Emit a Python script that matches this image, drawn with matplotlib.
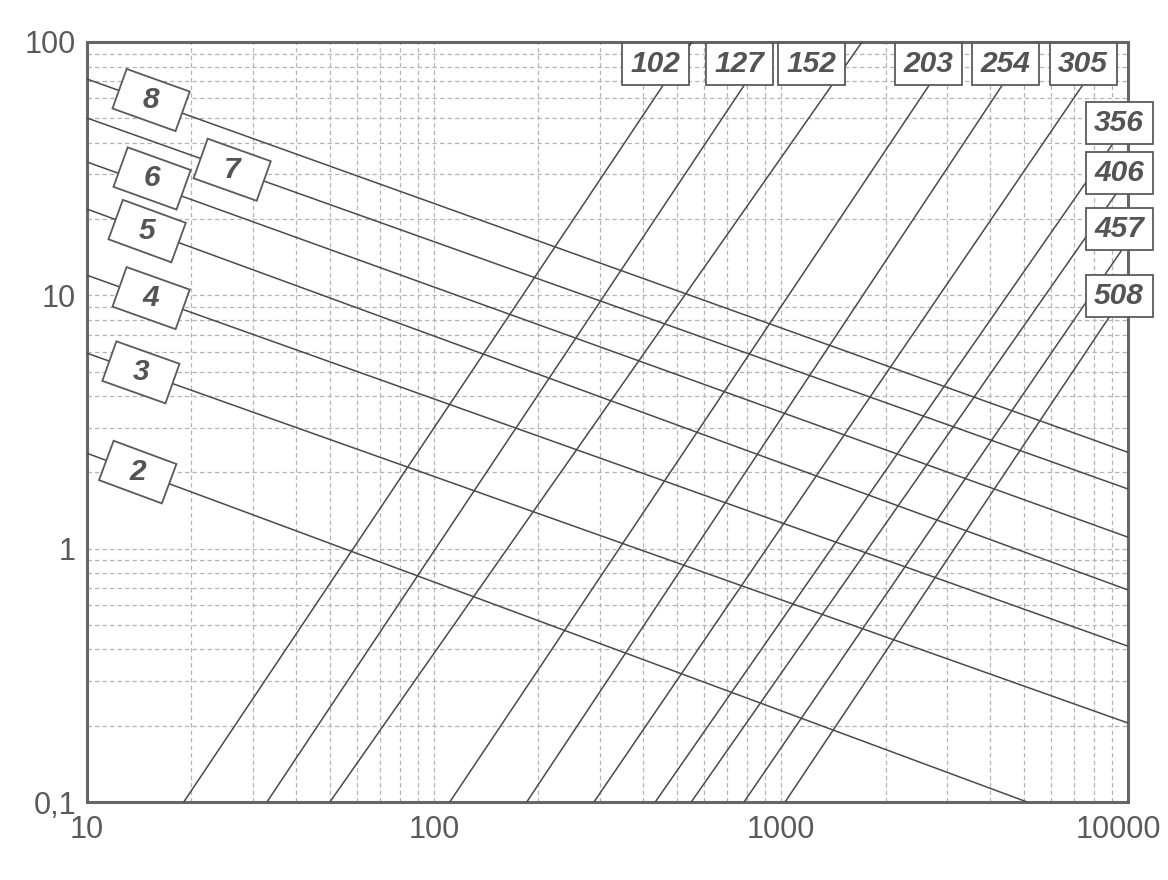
import numpy as np
import matplotlib
matplotlib.use("Agg")
from matplotlib import pyplot as plt
from matplotlib.patches import Rectangle
from matplotlib.transforms import Affine2D, ScaledTranslation
from matplotlib.ticker import LogLocator, NullFormatter

# Falling lines (labels 2..8): start on the left edge, end on the right/bottom edge
down_labels = ["2", "3", "4", "5", "6", "7", "8"]
down_x_start = [10, 10, 10, 10, 10, 10, 10]
down_y_start = [2.38, 5.91, 12.0, 21.9, 33.6, 50.1, 71.4]
down_x_end = [5120, 10000, 10000, 10000, 10000, 10000, 10000]
down_y_end = [0.1, 0.205, 0.412, 0.687, 1.11, 1.72, 2.40]

# Rising lines (labels 102..508): start on the bottom edge, end on the top/right edge
up_labels = ["102", "127", "152", "203", "254", "305", "356", "406", "457", "508"]
up_x_start = [19.0, 33.0, 50.1, 111, 185, 289, 434, 551, 782, 1027]
up_y_start = [0.1, 0.1, 0.1, 0.1, 0.1, 0.1, 0.1, 0.1, 0.1, 0.1]
up_x_end = [554, 948, 1712, 3236, 5248, 8995, 10000, 10000, 10000, 10000]
up_y_end = [100, 100, 100, 100, 100, 100, 48.4, 29.4, 16.4, 10.6]

x_ticks = [10, 100, 1000, 10000]
x_ticklabels = ["10", "100", "1000", "10000"]
y_ticks = [0.1, 1, 10, 100]
y_ticklabels = ["0,1", "1", "10", "100"]

# where the label boxes sit (layout only)
down_label_x = [14.0, 14.3, 15.3, 14.9, 15.4, 26.2, 15.3]
down_label_shift = [0, 0, 0, 0, 7, 0, 2]   # pixels up from the line
up_label_pos = [(0.5456, 0.971), (0.6263, 0.971), (0.6955, 0.971),
                (0.8079, 0.971), (0.8818, 0.971), (0.9568, 0.971),
                (0.9914, 0.8934), (0.9914, 0.8276), (0.9914, 0.7533), (0.9914, 0.6664)]

line_color = "#4a4a4a"
text_color = "#545454"
font = "Liberation Sans"

fig = plt.figure(figsize=(11.68, 8.8), dpi=100)
ax = fig.add_subplot(111)
plt.subplots_adjust(left=0.0745, right=0.9658, top=0.9523, bottom=0.0886)

ax.set_xscale("log")
ax.set_yscale("log")
ax.set_xlim(10, 10000)
ax.set_ylim(0.1, 100)

# Draw both families of lines
for i in range(len(down_labels)):
    ax.plot([down_x_start[i], down_x_end[i]], [down_y_start[i], down_y_end[i]],
            color=line_color, lw=1.1, zorder=3)
for i in range(len(up_labels)):
    ax.plot([up_x_start[i], up_x_end[i]], [up_y_start[i], up_y_end[i]],
            color=line_color, lw=1.1, zorder=3)

# Grid and ticks
ax.xaxis.set_minor_locator(LogLocator(base=10, subs=np.arange(2, 10)))
ax.yaxis.set_minor_locator(LogLocator(base=10, subs=np.arange(2, 10)))
ax.xaxis.set_minor_formatter(NullFormatter())
ax.yaxis.set_minor_formatter(NullFormatter())
ax.set_xticks(x_ticks)
ax.set_xticklabels(x_ticklabels)
ax.set_yticks(y_ticks)
ax.set_yticklabels(y_ticklabels)
ax.grid(which="both", linestyle=(0, (3.5, 2.5)), color="#b4b4b4", lw=0.9, zorder=1)
ax.tick_params(which="both", length=0)
ax.tick_params(axis="x", pad=9)
ax.tick_params(axis="y", pad=8)
for lab in ax.get_xticklabels() + ax.get_yticklabels():
    lab.set_fontfamily(font)
    lab.set_fontsize(22)
    lab.set_color("#5a5a5a")
# the last x label sits a little left of its tick, as in the original
last = ax.get_xticklabels()[-1]
last.set_transform(last.get_transform() + Affine2D().translate(-10, 0))
for sp in ax.spines.values():
    sp.set_color("#666666")
    sp.set_linewidth(2.2)

box_w, box_h = 67, 42


def label_box(x, y, text, trans, angle, dy=0):
    place = ScaledTranslation(x, y, trans) + Affine2D().translate(0, dy)
    rect = Rectangle((-box_w / 2, -box_h / 2), box_w, box_h, fc="white", ec="#5a5a5a", lw=1.3,
                     transform=Affine2D().rotate_deg(angle) + place,
                     zorder=6, clip_on=False)
    ax.add_patch(rect)
    ax.text(0, 0, text, transform=place, ha="center", va="center", fontsize=21.5,
            fontfamily=font, fontweight="bold", fontstyle="italic", color=text_color,
            zorder=7, clip_on=False)


# Labels on the falling lines, rotated with the line
for i in range(len(down_labels)):
    lx0, lx1 = np.log10(down_x_start[i]), np.log10(down_x_end[i])
    ly0, ly1 = np.log10(down_y_start[i]), np.log10(down_y_end[i])
    lx = np.log10(down_label_x[i])
    ly = ly0 + (ly1 - ly0) * (lx - lx0) / (lx1 - lx0)
    p0 = ax.transData.transform((down_x_start[i], down_y_start[i]))
    p1 = ax.transData.transform((down_x_end[i], down_y_end[i]))
    angle = np.degrees(np.arctan2(p1[1] - p0[1], p1[0] - p0[0]))
    label_box(down_label_x[i], 10 ** ly, down_labels[i], ax.transData, angle, down_label_shift[i])

# Labels of the rising lines along the top and right edge
for i in range(len(up_labels)):
    label_box(up_label_pos[i][0], up_label_pos[i][1], up_labels[i], ax.transAxes, 0)

plt.savefig("out.png", dpi=100)
